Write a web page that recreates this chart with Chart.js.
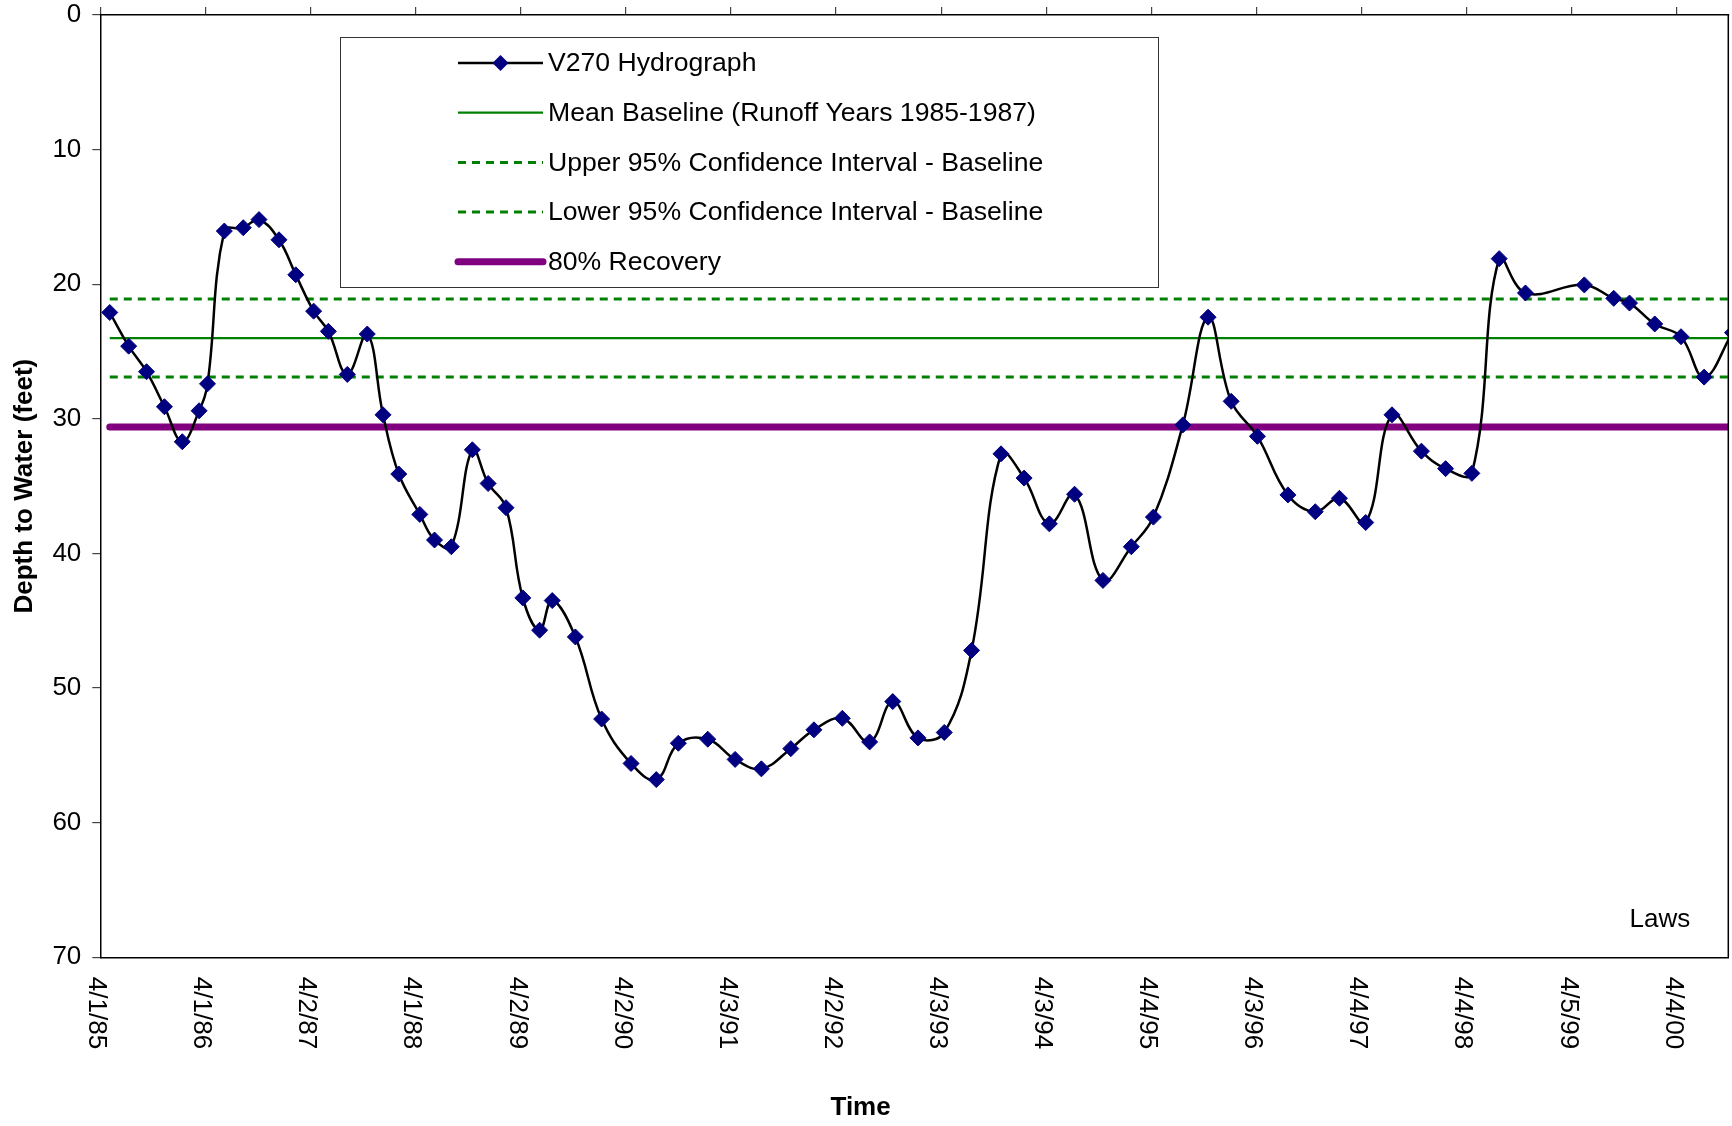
<!DOCTYPE html>
<html>
<head>
<meta charset="utf-8">
<script src="https://cdn.jsdelivr.net/npm/chart.js@4.4.1/dist/chart.umd.min.js"></script>
<style>
  html, body { margin: 0; padding: 0; background: #ffffff; }
  #wrap { width: 1732px; height: 1126px; position: relative; }
</style>
</head>
<body>
<div id="wrap"><canvas id="c" width="1732" height="1126"></canvas></div>
<script>
// ---------------- DATA ----------------
// Sample dates as decimal years (4/1/85 = 1985.25)
const sampleYears = [
  1985.34, 1985.52, 1985.69, 1985.86, 1986.03, 1986.19, 1986.27, 1986.43, 1986.61, 1986.76,
  1986.95, 1987.11, 1987.28, 1987.42, 1987.60, 1987.79, 1987.94, 1988.09, 1988.29, 1988.43,
  1988.59, 1988.79, 1988.94, 1989.11, 1989.27, 1989.43, 1989.55, 1989.77, 1990.02, 1990.30,
  1990.54, 1990.75, 1991.03, 1991.29, 1991.54, 1991.82, 1992.04, 1992.31, 1992.57, 1992.79,
  1993.03, 1993.28, 1993.54, 1993.82, 1994.04, 1994.28, 1994.52, 1994.79, 1995.06, 1995.27,
  1995.55, 1995.79, 1996.01, 1996.26, 1996.55, 1996.81, 1997.04, 1997.29, 1997.54, 1997.82,
  1998.05, 1998.30, 1998.56, 1998.81, 1999.37, 1999.65, 1999.80, 2000.04, 2000.29, 2000.51,
  2000.78
];
// Depth to water (feet)
const depthToWater = [
  22.1, 24.6, 26.5, 29.1, 31.7, 29.4, 27.4, 16.05, 15.8, 15.2,
  16.7, 19.3, 22.0, 23.5, 26.7, 23.7, 29.7, 34.1, 37.1, 39.0,
  39.5, 32.3, 34.8, 36.6, 43.3, 45.7, 43.5, 46.2, 52.3, 55.6,
  56.8, 54.1, 53.8, 55.3, 56.0, 54.5, 53.1, 52.25, 54.0, 51.0,
  53.7, 53.3, 47.2, 32.6, 34.4, 37.8, 35.6, 42.0, 39.5, 37.3,
  30.45, 22.45, 28.7, 31.3, 35.65, 36.9, 35.9, 37.7, 29.7, 32.4,
  33.7, 34.05, 18.1, 20.65, 20.05, 21.05, 21.4, 22.95, 23.9, 26.9,
  23.6
];
const tickLabels = ['4/1/85','4/1/86','4/2/87','4/1/88','4/2/89','4/2/90','4/3/91','4/2/92',
                    '4/3/93','4/3/94','4/4/95','4/3/96','4/4/97','4/4/98','4/5/99','4/4/00'];
const axisStartYear = 1985.25;
const axisEndYear = 2000.74;
const depthMin = 0, depthMax = 70, depthStep = 10;

const meanBaseline = 24.0;
const upperCI = 21.1;
const lowerCI = 26.9;
const recovery80 = 30.6;

const seriesLabels = [
  'V270 Hydrograph',
  'Mean Baseline (Runoff Years 1985-1987)',
  'Upper 95% Confidence Interval - Baseline',
  'Lower 95% Confidence Interval - Baseline',
  '80% Recovery'
];

// ---------------- STYLE ----------------
const FONT = '"Liberation Sans", Arial, Helvetica, sans-serif';
Chart.defaults.font.family = FONT;
Chart.defaults.font.size = 26;
Chart.defaults.color = '#000';

const GREEN = '#008000';
const PURPLE = '#800080';
const NAVY = '#000080';
const DASH = [8, 6];

const hydroPoints = sampleYears.map((x, i) => ({ x: x, y: depthToWater[i] }));
const hLine = v => [{ x: sampleYears[0], y: v }, { x: axisEndYear + 1, y: v }];

const yearTicks = s => { s.ticks = tickLabels.map((_, i) => ({ value: axisStartYear + i })); };
const noPad = s => { s.paddingTop = 0; s.paddingBottom = 0; s.paddingLeft = 0; s.paddingRight = 0; };

const customDraw = {
  id: 'customDraw',
  afterDraw(chart) {
    const { ctx, chartArea: ca, scales } = chart;
    const xs = scales.x;
    ctx.save();
    // right frame
    ctx.strokeStyle = '#000';
    ctx.lineWidth = 1.5;
    ctx.beginPath();
    ctx.moveTo(ca.right, ca.top);
    ctx.lineTo(ca.right, ca.bottom);
    ctx.stroke();

    // x tick labels, rotated clockwise
    ctx.fillStyle = '#000';
    ctx.font = '26px ' + FONT;
    tickLabels.forEach((lab, i) => {
      const px = xs.getPixelForValue(axisStartYear + i);
      ctx.save();
      ctx.translate(px - 4, ca.bottom + 19.5);
      ctx.rotate(Math.PI / 2);
      ctx.textAlign = 'left';
      ctx.textBaseline = 'middle';
      ctx.fillText(lab, 0, 0);
      ctx.restore();
    });

    // x axis title
    ctx.font = 'bold 26px ' + FONT;
    ctx.textAlign = 'center';
    ctx.textBaseline = 'middle';
    ctx.fillText('Time', ca.left + ca.width * 0.467, ca.bottom + 151);

    // site label
    ctx.font = '26px ' + FONT;
    ctx.textAlign = 'right';
    ctx.fillText('Laws', ca.right - 38, ca.bottom - 37);

    // legend
    const lx = 340.5, ly = 37.5, lw = 818, lh = 250;
    ctx.fillStyle = '#fff';
    ctx.fillRect(lx, ly, lw, lh);
    ctx.strokeStyle = '#333';
    ctx.lineWidth = 1;
    ctx.strokeRect(lx, ly, lw, lh);
    const ds = chart.data.datasets;
    const x0 = 458, x1 = 543, tx = 548;
    ds.forEach((d, i) => {
      const ry = 63 + i * 49.7;
      ctx.save();
      ctx.strokeStyle = d.borderColor;
      ctx.lineWidth = d.borderWidth;
      ctx.setLineDash(d.borderDash || []);
      ctx.lineCap = d.borderCapStyle || 'butt';
      ctx.beginPath();
      ctx.moveTo(x0, ry);
      ctx.lineTo(x1, ry);
      ctx.stroke();
      ctx.setLineDash([]);
      if (d.pointRadius > 0) {
        const r = d.pointRadius;
        const cx = (x0 + x1) / 2;
        ctx.fillStyle = d.pointBackgroundColor;
        ctx.beginPath();
        ctx.moveTo(cx - r, ry);
        ctx.lineTo(cx, ry - r);
        ctx.lineTo(cx + r, ry);
        ctx.lineTo(cx, ry + r);
        ctx.closePath();
        ctx.fill();
      }
      ctx.fillStyle = '#000';
      ctx.font = '26.6px ' + FONT;
      ctx.textAlign = 'left';
      ctx.textBaseline = 'middle';
      ctx.fillText(d.label, tx, ry + 1);
      ctx.restore();
    });
    ctx.restore();
  }
};

new Chart(document.getElementById('c'), {
  type: 'line',
  data: {
    datasets: [
      {
        label: seriesLabels[0],
        data: hydroPoints,
        borderColor: '#000',
        borderWidth: 2.5,
        tension: 0.4,
        pointStyle: 'rectRot',
        pointRadius: 8,
        pointBackgroundColor: NAVY,
        pointBorderColor: NAVY,
        pointBorderWidth: 1,
        clip: 0,
        xAxisID: 'x', yAxisID: 'y'
      },
      {
        label: seriesLabels[1],
        data: hLine(meanBaseline),
        borderColor: GREEN, borderWidth: 2.2, pointRadius: 0, tension: 0,
        xAxisID: 'x', yAxisID: 'y'
      },
      {
        label: seriesLabels[2],
        data: hLine(upperCI),
        borderColor: GREEN, borderWidth: 3, borderDash: DASH, pointRadius: 0, tension: 0,
        xAxisID: 'x', yAxisID: 'y'
      },
      {
        label: seriesLabels[3],
        data: hLine(lowerCI),
        borderColor: GREEN, borderWidth: 3, borderDash: DASH, pointRadius: 0, tension: 0,
        xAxisID: 'x', yAxisID: 'y'
      },
      {
        label: seriesLabels[4],
        data: hLine(recovery80),
        borderColor: PURPLE, borderWidth: 7, borderCapStyle: 'round', pointRadius: 0, tension: 0,
        xAxisID: 'x', yAxisID: 'y'
      }
    ]
  },
  options: {
    responsive: false,
    animation: false,
    devicePixelRatio: 1,
    layout: { autoPadding: false, padding: { left: 0, right: 3.7, top: 0, bottom: 0 } },
    plugins: { legend: { display: false }, tooltip: { enabled: false } },
    scales: {
      x: {
        type: 'linear', position: 'bottom',
        min: axisStartYear, max: axisEndYear,
        afterBuildTicks: yearTicks,
        ticks: { display: false },
        grid: { display: false },
        border: { display: true, color: '#000', width: 1.5 },
        afterFit: s => { s.height = 168.7; noPad(s); }
      },
      xTop: {
        type: 'linear', position: 'top',
        min: axisStartYear, max: axisEndYear,
        afterBuildTicks: yearTicks,
        ticks: { display: false },
        grid: { display: true, drawOnChartArea: false, drawTicks: true, tickLength: 8, color: '#444', lineWidth: 1.2 },
        border: { display: true, color: '#000', width: 1.5 },
        afterFit: s => { s.height = 15; noPad(s); }
      },
      y: {
        type: 'linear', position: 'left', reverse: true,
        min: depthMin, max: depthMax,
        ticks: { stepSize: depthStep, padding: 11, color: '#000', font: { size: 26 } },
        grid: { display: true, drawOnChartArea: false, drawTicks: true, tickLength: 8, color: '#444', lineWidth: 1.2 },
        border: { display: true, color: '#000', width: 1.5 },
        title: { display: true, text: 'Depth to Water (feet)', color: '#000',
                 font: { size: 26, weight: 'bold' }, padding: { top: 9, bottom: 0 } },
        afterFit: s => { s.width = 100.3; noPad(s); }
      }
    }
  },
  plugins: [customDraw]
});
</script>
</body>
</html>
